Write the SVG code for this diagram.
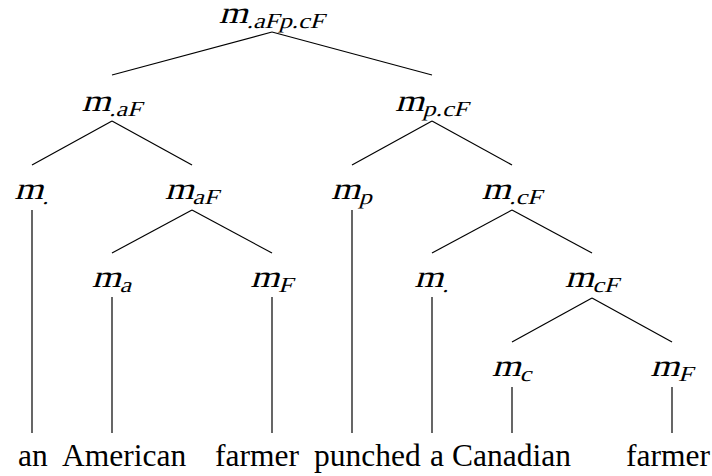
<svg xmlns="http://www.w3.org/2000/svg" width="712" height="476" viewBox="0 0 712 476">
<style>
.lbl{font-family:"Liberation Serif","Times New Roman",serif;font-size:31px;fill:#000;text-anchor:middle}
.sub{font-size:21.5px}
.word{font-family:"Liberation Serif","Times New Roman",serif;font-size:31.5px;fill:#000}
.edge{stroke:#000;stroke-width:1.2;fill:none}
</style>
<rect width="712" height="476" fill="#fff"/>
<g id="connectors">
<line class="edge" x1="272" y1="32" x2="112" y2="75"/>
<line class="edge" x1="272" y1="32" x2="432" y2="75"/>
<line class="edge" x1="112" y1="121" x2="32" y2="165"/>
<line class="edge" x1="112" y1="121" x2="192" y2="165"/>
<line class="edge" x1="432" y1="121" x2="352" y2="165"/>
<line class="edge" x1="432" y1="121" x2="512" y2="165"/>
<line class="edge" x1="32" y1="210" x2="32" y2="433"/>
<line class="edge" x1="192" y1="210" x2="112" y2="253"/>
<line class="edge" x1="192" y1="210" x2="272" y2="253"/>
<line class="edge" x1="352" y1="210" x2="352" y2="433"/>
<line class="edge" x1="512" y1="210" x2="432" y2="253"/>
<line class="edge" x1="512" y1="210" x2="592" y2="253"/>
<line class="edge" x1="112" y1="297" x2="112" y2="433"/>
<line class="edge" x1="272" y1="297" x2="272" y2="433"/>
<line class="edge" x1="432" y1="297" x2="432" y2="433"/>
<line class="edge" x1="592" y1="298" x2="512" y2="342"/>
<line class="edge" x1="592" y1="298" x2="672" y2="342"/>
<line class="edge" x1="512" y1="387" x2="512" y2="433"/>
<line class="edge" x1="672" y1="387" x2="672" y2="433"/>
</g>
<g id="n0"><text class="lbl" transform="translate(272,23) scale(1.2,1) skewX(-14)">m<tspan class="sub" dy="4.5">.aFp.cF</tspan></text></g>
<g id="n1"><text class="lbl" transform="translate(112,111) scale(1.2,1) skewX(-14)">m<tspan class="sub" dy="4.5">.aF</tspan></text></g>
<g id="n2"><text class="lbl" transform="translate(432,111) scale(1.2,1) skewX(-14)">m<tspan class="sub" dy="4.5">p.cF</tspan></text></g>
<g id="n3"><text class="lbl" transform="translate(32,199) scale(1.2,1) skewX(-14)">m<tspan class="sub" dy="4.5">.</tspan></text></g>
<g id="n4"><text class="lbl" transform="translate(192,199) scale(1.2,1) skewX(-14)">m<tspan class="sub" dy="4.5">aF</tspan></text></g>
<g id="n5"><text class="lbl" transform="translate(352,199) scale(1.2,1) skewX(-14)">m<tspan class="sub" dy="4.5">p</tspan></text></g>
<g id="n6"><text class="lbl" transform="translate(512,199) scale(1.2,1) skewX(-14)">m<tspan class="sub" dy="4.5">.cF</tspan></text></g>
<g id="n7"><text class="lbl" transform="translate(112,287) scale(1.2,1) skewX(-14)">m<tspan class="sub" dy="4.5">a</tspan></text></g>
<g id="n8"><text class="lbl" transform="translate(272,287) scale(1.2,1) skewX(-14)">m<tspan class="sub" dy="4.5">F</tspan></text></g>
<g id="n9"><text class="lbl" transform="translate(432,287) scale(1.2,1) skewX(-14)">m<tspan class="sub" dy="4.5">.</tspan></text></g>
<g id="n10"><text class="lbl" transform="translate(592,287) scale(1.2,1) skewX(-14)">m<tspan class="sub" dy="4.5">cF</tspan></text></g>
<g id="n11"><text class="lbl" transform="translate(512,376) scale(1.2,1) skewX(-14)">m<tspan class="sub" dy="4.5">c</tspan></text></g>
<g id="n12"><text class="lbl" transform="translate(672,376) scale(1.2,1) skewX(-14)">m<tspan class="sub" dy="4.5">F</tspan></text></g>
<g id="w1"><text class="word" x="18" y="466">an</text></g>
<g id="w2"><text class="word" x="62" y="466">American</text></g>
<g id="w3"><text class="word" x="215" y="466">farmer</text></g>
<g id="w4"><text class="word" x="314" y="466">punched</text></g>
<g id="w5"><text class="word" x="430" y="466">a</text></g>
<g id="w6"><text class="word" x="452" y="466">Canadian</text></g>
<g id="w7"><text class="word" x="626" y="466">farmer</text></g>
</svg>
